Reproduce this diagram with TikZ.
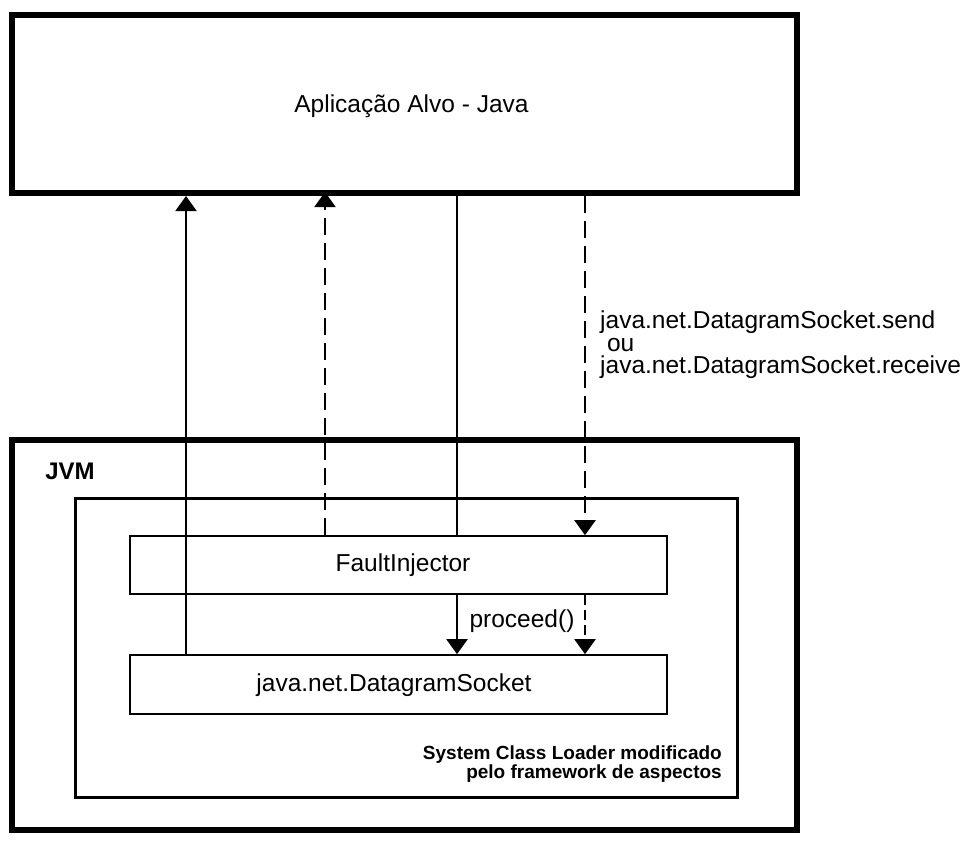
\documentclass[tikz,border=0pt]{standalone}
\usepackage{fontspec}
\setmainfont{Liberation Sans}
\usetikzlibrary{arrows.meta}
\begin{document}
\begin{tikzpicture}[x=1pt,y=-1pt,
  box/.style={draw, rectangle, inner sep=0pt, fill=white},
  lbl/.style={inner sep=0pt, font=\fontsize{24.5}{24}\selectfont},
  conn/.style={line width=2pt, -{Triangle[width=21pt,length=15pt]}},
  dashconn/.style={conn, dash pattern=on 17pt off 8pt}]
\useasboundingbox (0,0) rectangle (965,859);
\node[box, line width=6pt, minimum width=785pt, minimum height=178pt] (app) at (404.5,104) {};
\node[lbl] (applbl) at (411.5,106) {Aplicação Alvo - Java};
\node[box, line width=6pt, minimum width=785pt, minimum height=390pt] (jvm) at (404.5,635) {};
\node[inner sep=0pt, font=\fontsize{24}{24}\selectfont\bfseries] (jvmlbl) at (70,471) {JVM};
\node[box, line width=3pt, minimum width=662pt, minimum height=299pt] (loader) at (406,647.5) {};
\node[box, line width=1.6pt, minimum width=537pt, minimum height=58pt] (fi) at (398.5,565) {};
\node[lbl] (filbl) at (403,565) {FaultInjector};
\node[box, line width=1.6pt, minimum width=537pt, minimum height=59pt] (ds) at (398.5,684.5) {};
\node[lbl] (dslbl) at (394,685) {java.net.DatagramSocket};
\node[lbl, anchor=north west, align=left, font=\fontsize{24.5}{22.5}\selectfont] (call) at (600,311) {java.net.DatagramSocket.send\\\ ou\\java.net.DatagramSocket.receive};
\node[lbl] (proc) at (522,621) {proceed()};
\node[inner sep=0pt, anchor=east, align=right, font=\fontsize{19}{19}\selectfont\bfseries] (sclbl) at (722,764) {System Class Loader modificado\\pelo framework de aspectos};
\coordinate (c1) at (186,0);
\coordinate (c2) at (325,0);
\coordinate (c3) at (457,0);
\coordinate (c4) at (585,0);
\draw[conn] (ds.north -| c1) -- (app.south -| c1);
\draw[dashconn] (fi.north -| c2) -- ([yshift=4pt]app.south -| c2);
\draw[line width=2pt] (app.south -| c3) -- (fi.north -| c3);
\draw[conn] (fi.south -| c3) -- (ds.north -| c3);
\draw[dashconn] (app.south -| c4) -- (fi.north -| c4);
\draw[conn, dash pattern=on 10pt off 5pt] (fi.south -| c4) -- (ds.north -| c4);
\end{tikzpicture}
\end{document}
